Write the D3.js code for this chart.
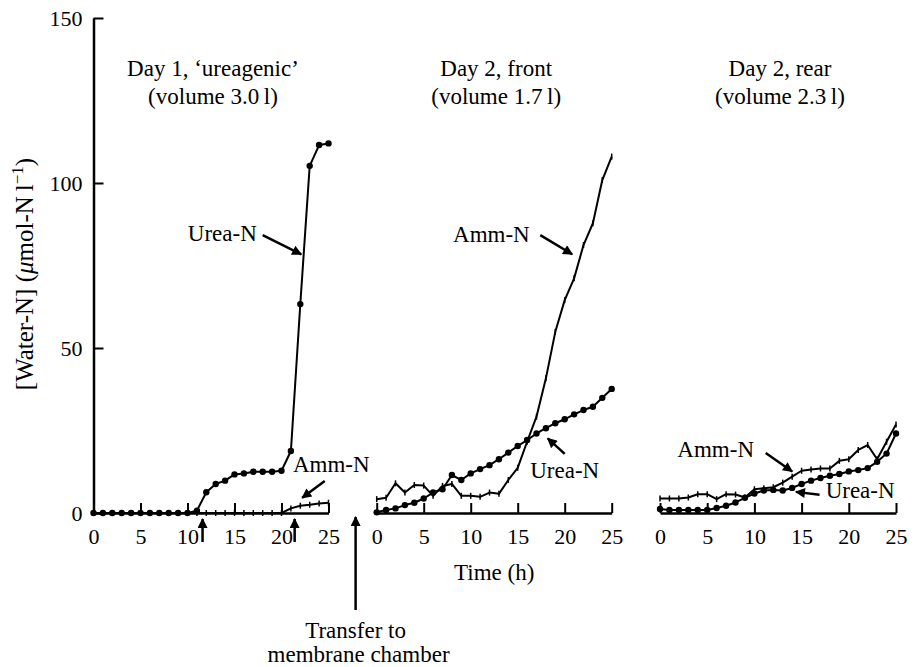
<!DOCTYPE html>
<html lang="en">
<head>
    <meta charset="UTF-8">
    <title>Water-N over time</title>
    <script src="https://d3js.org/d3.v7.min.js"></script>
    <style>
        body { margin: 0; background: #fff; }
        svg text { font-family: "Liberation Serif", "Times New Roman", serif; fill: #000; }
        .domain { stroke: #000; stroke-width: 2.5px; }
        .tick line { stroke: #000; stroke-width: 2px; }
        .series { fill: none; stroke: #000; stroke-width: 2px; stroke-linejoin: round; }
    </style>
</head>
<body>
    <svg id="chart" width="918" height="667"></svg>

    <script>
        // hours sampled in each run
        const hours = [0, 1, 2, 3, 4, 5, 6, 7, 8, 9, 10, 11, 12, 13, 14, 15, 16, 17, 18, 19, 20, 21, 22, 23, 24, 25];
        const xTicks = [0, 5, 10, 15, 20, 25];
        const yTicks = [0, 50, 100, 150];

        // Day 1, 'ureagenic'
        const day1Urea = [0, 0, 0, 0, 0, 0, 0, 0, 0, 0, 0, 0.7, 6.3, 8.8, 9.8, 11.7, 12.0, 12.5, 12.5, 12.5, 12.8, 18.8, 63.3, 105.2, 111.5, 112.0];
        const day1Amm = [0, 0, 0, 0, 0, 0, 0, 0, 0, 0, 0, 0, 0, 0, 0, 0, 0, 0, 0, 0, 0, 1.4, 2.2, 2.5, 2.9, 3.1];

        // Day 2, front
        const frontUrea = [0.2, 0.9, 1.4, 2.4, 3.1, 4.4, 6.2, 7.2, 11.5, 10.0, 12.0, 13.3, 14.5, 16.3, 18.3, 20.3, 22.1, 24.1, 25.7, 27.2, 28.4, 29.9, 31.2, 32.2, 34.9, 37.6];
        const frontAmm = [4.2, 4.6, 9.0, 6.2, 8.5, 8.3, 5.2, 8.2, 8.8, 5.2, 5.2, 4.9, 6.2, 5.8, 10.0, 13.7, 21.6, 29.2, 40.8, 54.9, 64.5, 71.1, 81.2, 87.8, 100.9, 108.0];

        // Day 2, rear
        const rearUrea = [1.2, 0.9, 0.9, 0.9, 0.9, 0.9, 1.5, 2.2, 3.2, 4.6, 5.9, 6.8, 7.0, 6.8, 7.6, 8.8, 9.8, 10.6, 11.3, 11.8, 12.6, 13.0, 13.6, 15.5, 18.0, 24.1];
        const rearAmm = [4.4, 4.4, 4.4, 4.7, 5.7, 5.7, 4.2, 5.7, 5.6, 4.7, 7.2, 7.5, 7.8, 9.2, 11.0, 12.8, 13.2, 13.5, 13.5, 15.8, 16.3, 19.1, 20.6, 16.3, 21.6, 26.8];

        const panelTitles = [
            ["Day 1, \u2018ureagenic\u2019", "(volume 3.0\u2009l)"],
            ["Day 2, front", "(volume 1.7\u2009l)"],
            ["Day 2, rear", "(volume 2.3\u2009l)"]
        ];

        // label text, label anchor [h, value], arrow from [h, value] to [h, value]
        const notes = [
            [["Urea-N", [13.7, 82.4], [18.0, 84.2], [22.1, 78.4]], ["Amm-N", [25.3, 12.4], [24.6, 9.7], [22.2, 4.6]]],
            [["Amm-N", [12.2, 82.1], [17.4, 84.2], [20.8, 78.4]], ["Urea-N", [20.0, 10.6], [20.0, 17.9], [18.2, 22.6]]],
            [["Amm-N", [5.9, 17.0], [11.2, 18.2], [14.0, 12.6]], ["Urea-N", [21.2, 4.5], [16.9, 5.5], [14.4, 6.4]]]
        ];
        const smallArrowHours = [11.6, 21.4];

        const svg = d3.select("#chart");

        svg.append("defs").append("marker")
            .attr("id", "head")
            .attr("viewBox", "0 0 10 10")
            .attr("refX", 9).attr("refY", 5)
            .attr("markerWidth", 12).attr("markerHeight", 10)
            .attr("markerUnits", "userSpaceOnUse")
            .attr("orient", "auto")
            .append("path")
            .attr("d", "M0,0 L10,5 L0,10 z")
            .attr("fill", "#000");

        const y = d3.scaleLinear().domain([0, 150]).range([513, 18]);
        const panelRanges = [[93.5, 328.5], [376.7, 611.7], [660, 896]];
        const xs = panelRanges.map(r => d3.scaleLinear().domain([0, 25]).range(r));
        const panels = [[day1Urea, day1Amm], [frontUrea, frontAmm], [rearUrea, rearAmm]];

        // y axis
        svg.append("g")
            .attr("transform", "translate(93.5,0)")
            .call(d3.axisLeft(y).tickValues(yTicks).tickSizeInner(-10).tickSizeOuter(0).tickPadding(11))
            .call(g => g.selectAll("text").style("font-size", "22px"));

        svg.append("text")
            .attr("transform", "translate(33,274) rotate(-90)")
            .attr("text-anchor", "middle")
            .style("font-size", "25px")
            .html('[Water-N] (<tspan font-style="italic">\u03bc</tspan>mol-N\u2009l<tspan dy="-10" font-size="17px">\u22121</tspan><tspan dy="10">)</tspan>');

        panels.forEach(([urea, amm], i) => {
            const x = xs[i];
            const g = svg.append("g");

            g.append("g")
                .attr("transform", "translate(0,513)")
                .call(d3.axisBottom(x).tickValues(xTicks).tickSizeInner(-10).tickSizeOuter(0).tickPadding(15))
                .call(ax => ax.selectAll("text").style("font-size", "22px"));

            const line = d3.line().x((d, j) => x(hours[j])).y(d => y(d));

            g.append("path").datum(amm).attr("class", "series").attr("d", line);
            g.append("path").datum(urea).attr("class", "series").attr("d", line);

            g.selectAll(".amm").data(amm).enter().append("line")
                .attr("x1", (d, j) => x(hours[j])).attr("x2", (d, j) => x(hours[j]))
                .attr("y1", d => y(d) - 3).attr("y2", d => y(d) + 3)
                .attr("stroke", "#000").attr("stroke-width", 1.5);

            g.selectAll(".urea").data(urea).enter().append("circle")
                .attr("cx", (d, j) => x(hours[j]))
                .attr("cy", d => y(d))
                .attr("r", 3.2);

            const cx = (x.range()[0] + x.range()[1]) / 2 + 2;
            g.append("text").attr("x", cx).attr("y", 76).attr("text-anchor", "middle")
                .style("font-size", "23px").text(panelTitles[i][0]);
            g.append("text").attr("x", cx).attr("y", 104).attr("text-anchor", "middle")
                .style("font-size", "23px").text(panelTitles[i][1]);

            notes[i].forEach(([label, at, from, to]) => {
                g.append("text").attr("x", x(at[0])).attr("y", y(at[1]))
                    .attr("text-anchor", "middle").style("font-size", "23px").text(label);
                g.append("line")
                    .attr("x1", x(from[0])).attr("y1", y(from[1]))
                    .attr("x2", x(to[0])).attr("y2", y(to[1]))
                    .attr("stroke", "#000").attr("stroke-width", 2.5)
                    .attr("marker-end", "url(#head)");
            });
        });

        // start-of-phase arrows under Day 1
        smallArrowHours.forEach(h => {
            svg.append("line")
                .attr("x1", xs[0](h)).attr("x2", xs[0](h))
                .attr("y1", 542).attr("y2", 519)
                .attr("stroke", "#000").attr("stroke-width", 2.5)
                .attr("marker-end", "url(#head)");
        });

        // transfer arrow between the panels
        const transferX = (xs[0].range()[1] + xs[1].range()[0]) / 2 + 3;
        svg.append("line")
            .attr("x1", transferX).attr("x2", transferX)
            .attr("y1", 610).attr("y2", 517)
            .attr("stroke", "#000").attr("stroke-width", 2.5)
            .attr("marker-end", "url(#head)");
        svg.append("text").attr("x", transferX).attr("y", 638).attr("text-anchor", "middle")
            .style("font-size", "23px").text("Transfer to");
        svg.append("text").attr("x", transferX + 3).attr("y", 662).attr("text-anchor", "middle")
            .style("font-size", "23px").text("membrane chamber");

        svg.append("text")
            .attr("x", (xs[1].range()[0] + xs[1].range()[1]) / 2)
            .attr("y", 580)
            .attr("text-anchor", "middle")
            .style("font-size", "23px")
            .text("Time (h)");
    </script>
</body>
</html>
